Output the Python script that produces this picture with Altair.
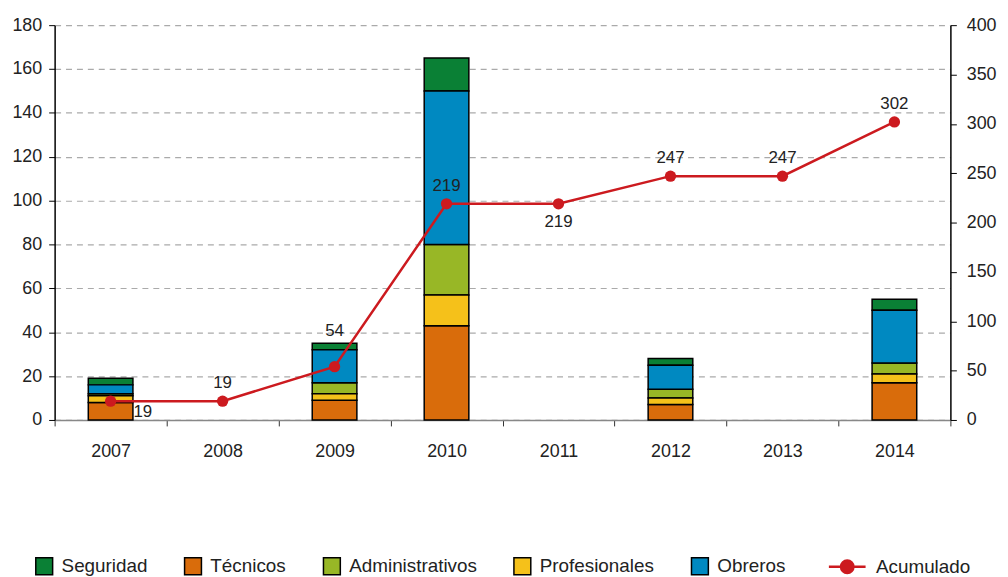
import altair as alt
import pandas as pd

years = ["2007", "2008", "2009", "2010", "2011", "2012", "2013", "2014"]
seguridad = [3, 0, 3, 15, 0, 3, 0, 5]
tecnicos = [8, 0, 9, 43, 0, 7, 0, 17]
administrativos = [1, 0, 5, 23, 0, 4, 0, 5]
profesionales = [3, 0, 3, 14, 0, 3, 0, 4]
obreros = [4, 0, 15, 70, 0, 11, 0, 24]
acumulado = [19, 19, 54, 219, 219, 247, 247, 302]
label_place = ["right", "above", "high", "above", "below", "above", "above", "above"]

categories = ["Seguridad", "Técnicos", "Administrativos", "Profesionales", "Obreros"]
colors = ["#0a8035", "#d96c0b", "#98b726", "#f5c11a", "#0089c1"]
stack_rank = {"Técnicos": 0, "Profesionales": 1, "Administrativos": 2, "Obreros": 3, "Seguridad": 4}
series_values = {
    "Seguridad": seguridad,
    "Técnicos": tecnicos,
    "Administrativos": administrativos,
    "Profesionales": profesionales,
    "Obreros": obreros,
}

rows = []
for cat in categories:
    for y, v in zip(years, series_values[cat]):
        if v > 0:
            rows.append({"year": y, "cat": cat, "value": v, "rank": stack_rank[cat]})
bar_df = pd.DataFrame(rows)

line_df = pd.DataFrame({
    "year": years,
    "acum": acumulado,
    "place": label_place,
    "series": ["Acumulado"] * len(years),
})

FONT = "Liberation Sans"
TXT = "#222222"
RED = "#cc1a1f"

x_enc = alt.X(
    "year:O",
    scale=alt.Scale(domain=years, paddingInner=0, paddingOuter=0),
    axis=alt.Axis(
        title=None, labelAngle=0, tickBand="extent", domainColor="#888888",
        domainWidth=1.5, tickColor="#333333", tickSize=6, labelPadding=17,
        labelFontSize=18, labelColor=TXT,
    ),
)

bars = alt.Chart(bar_df).mark_bar(size=45, stroke="black", strokeWidth=1.5).encode(
    x=x_enc,
    y=alt.Y(
        "value:Q", stack="zero",
        scale=alt.Scale(domain=[0, 180], nice=False),
        axis=alt.Axis(
            orient="left", title=None, values=list(range(0, 181, 20)),
            grid=True, gridDash=[6, 5], gridColor="#aaaaaa", gridWidth=1.2,
            domainColor="black", domainWidth=1.5, tickColor="black", tickSize=6,
            labelPadding=7, labelFontSize=18, labelColor=TXT,
        ),
    ),
    color=alt.Color(
        "cat:N",
        scale=alt.Scale(domain=categories, range=colors),
        legend=alt.Legend(
            title=None, orient="none", legendX=-20, legendY=536,
            direction="horizontal", symbolType="square", symbolSize=289,
            symbolStrokeColor="black", symbolStrokeWidth=1.5, symbolOpacity=1,
            labelFontSize=19, labelColor=TXT, labelOffset=8, columnPadding=34,
            padding=0,
        ),
    ),
    order=alt.Order("rank:Q"),
)

base = alt.Chart(line_df)
line = base.mark_line(strokeWidth=2.5).encode(
    stroke=alt.Stroke(
        "series:N",
        scale=alt.Scale(domain=["Acumulado"], range=[RED]),
        legend=alt.Legend(
            title=None, orient="none", legendX=779, legendY=526,
            symbolType="M-1,0L1,0M-0.34,0A0.34,0.34,0,1,1,0.34,0A0.34,0.34,0,1,1,-0.34,0Z",
            symbolSize=1369, symbolFillColor=RED, symbolStrokeWidth=2.5,
            labelFontSize=19, labelColor=TXT, labelOffset=9, padding=0,
        ),
    )
)
pts = base.mark_circle(size=130, color=RED, opacity=1)
t_above = base.mark_text(fontSize=17, color=TXT, dy=-18).encode(text="acum:Q").transform_filter(
    alt.datum.place == "above")
t_below = base.mark_text(fontSize=17, color=TXT, dy=18).encode(text="acum:Q").transform_filter(
    alt.datum.place == "below")
t_high = base.mark_text(fontSize=17, color=TXT, dy=-36).encode(text="acum:Q").transform_filter(
    alt.datum.place == "high")
t_right = base.mark_text(fontSize=17, color=TXT, align="left", dx=23, dy=11).encode(
    text="acum:Q").transform_filter(alt.datum.place == "right")

right = alt.layer(line, pts, t_above, t_below, t_high, t_right).encode(
    x=x_enc,
    y=alt.Y(
        "acum:Q",
        scale=alt.Scale(domain=[0, 400], nice=False),
        axis=alt.Axis(
            orient="right", title=None, values=list(range(0, 401, 50)), grid=False,
            domainColor="black", domainWidth=1.5, tickColor="black", tickSize=6,
            labelPadding=10, labelFontSize=18, labelColor=TXT,
        ),
    ),
)

chart = alt.layer(bars, right).resolve_scale(y="independent").properties(
    width=903, height=398,
    autosize=alt.AutoSizeParams(type="none"),
    padding={"left": 47, "top": 15, "right": 50, "bottom": 155},
).configure(font=FONT).configure_view(stroke=None)

chart.save("out.html", embed_options={"renderer": "svg", "actions": False})
